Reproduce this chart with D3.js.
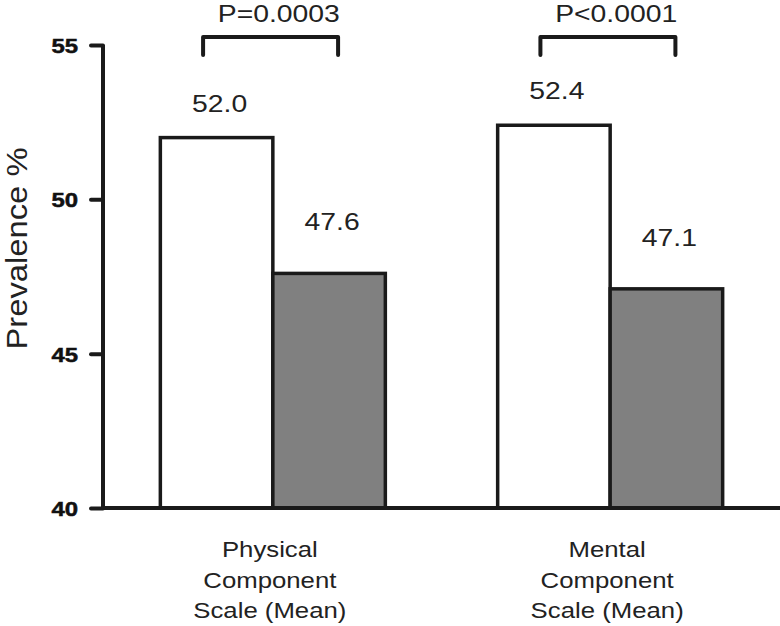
<!DOCTYPE html>
<html>
<head>
<meta charset="utf-8">
<script src="https://cdn.jsdelivr.net/npm/d3@7"></script>
<style>
  html, body { margin: 0; padding: 0; background: #fff; }
  svg { display: block; font-family: "Liberation Sans", Arial, Helvetica, sans-serif; }
</style>
</head>
<body>
<svg id="chart" width="780" height="626"></svg>
<script>
// ---- Data ----
const categories = [
  ["Physical", "Component", "Scale (Mean)"],
  ["Mental", "Component", "Scale (Mean)"]
];
const categoryKeys = ["Physical", "Mental"];
const seriesNames = ["Group 1", "Group 2"];
const seriesWhite = [52.0, 52.4];
const seriesGray = [47.6, 47.1];
const valueLabels = [["52.0", "47.6"], ["52.4", "47.1"]];
const pValues = ["P=0.0003", "P<0.0001"];
const yTicks = [40, 45, 50, 55];
const yTitle = "Prevalence %";

// ---- Layout ----
const svg = d3.select("#chart");
const yBottom = 508, yTop = 45, xLeft = 103, xRight = 780;
const sx = 1.18; // horizontal glyph stretch of the reference

const y = d3.scaleLinear().domain([40, 55]).range([yBottom, yTop]);
const x0 = d3.scaleBand().domain(categoryKeys).range([xLeft, xRight])
  .paddingInner(0.333).paddingOuter(0.17);
const x1 = d3.scaleBand().domain(seriesNames).range([0, x0.bandwidth()]);
const fills = ["#ffffff", "#808080"];
const labelOffset = [26, 43];

const groupData = categoryKeys.map((k, i) => ({
  key: k, i,
  vals: [seriesWhite[i], seriesGray[i]]
}));

// bars
const g = svg.selectAll("g.grp").data(groupData).join("g")
  .attr("class", "grp")
  .attr("transform", d => `translate(${x0(d.key)},0)`);

g.selectAll("rect").data(d => d.vals.map((v, j) => ({ v, j, i: d.i })))
  .join("rect")
  .attr("x", d => x1(seriesNames[d.j]))
  .attr("y", d => y(d.v))
  .attr("width", x1.bandwidth())
  .attr("height", d => y(40) - y(d.v))
  .attr("fill", d => fills[d.j])
  .attr("stroke", "#1a1a1a")
  .attr("stroke-width", 3.5);

// value labels
g.selectAll("text.val").data(d => d.vals.map((v, j) => ({ v, j, i: d.i })))
  .join("text")
  .attr("class", "val")
  .attr("transform", d => `translate(${x1(seriesNames[d.j]) + x1.bandwidth() / 2 + 3},${y(d.v) - labelOffset[d.j]}) scale(${sx},1)`)
  .attr("text-anchor", "middle")
  .style("font-size", "24px")
  .attr("fill", "#222")
  .text(d => valueLabels[d.i][d.j]);

// brackets
const bw = x0.bandwidth();
g.append("path")
  .attr("d", d => `M${bw * 0.19},55 V37 H${bw * 0.79} V55`)
  .attr("fill", "none")
  .attr("stroke", "#1a1a1a")
  .attr("stroke-width", 4)
  .attr("stroke-linecap", "round")
  .attr("stroke-linejoin", "round");

g.append("text")
  .attr("transform", `translate(${bw / 2 + 6},22) scale(${sx},1)`)
  .attr("text-anchor", "middle")
  .style("font-size", "24px")
  .attr("fill", "#222")
  .text(d => pValues[d.i]);

// category labels
g.append("g").selectAll("text").data(d => categories[d.i]).join("text")
  .attr("transform", (d, k) => `translate(${bw / 2 - 3},${557 + k * 30.5}) scale(1.12,1)`)
  .attr("text-anchor", "middle")
  .style("font-size", "23px")
  .attr("fill", "#222")
  .text(d => d);

// y axis
const yAxis = d3.axisLeft(y).tickValues(yTicks).tickSize(12).tickPadding(13)
  .tickFormat(d3.format("d"));
const ya = svg.append("g").attr("transform", `translate(${xLeft},0)`).call(yAxis);
ya.select(".domain").remove();
ya.append("line").attr("x1", 0).attr("x2", 0).attr("y1", yTop).attr("y2", yBottom)
  .attr("stroke", "#1a1a1a").attr("stroke-width", 4);
ya.selectAll(".tick line").attr("stroke", "#1a1a1a").attr("stroke-width", 4)
  .attr("stroke-linecap", "round");
ya.selectAll(".tick text")
  .style("font-size", "21px")
  .style("font-weight", "bold")
  .style("font-family", "'Liberation Sans', Arial, sans-serif")
  .attr("fill", "#111")
  .attr("x", 0)
  .attr("transform", "translate(-25,0) scale(1.14,1)")
  .attr("stroke", "#111")
  .attr("stroke-width", 0.5)
  .attr("dy", "0.36em");

// x axis line
svg.append("line").attr("x1", xLeft - 2).attr("x2", xRight).attr("y1", yBottom).attr("y2", yBottom)
  .attr("stroke", "#1a1a1a").attr("stroke-width", 4);

// y title
svg.append("text")
  .attr("transform", `translate(27,${(140 + 357) / 2}) rotate(-90) scale(1.13,1)`)
  .attr("text-anchor", "middle")
  .style("font-size", "29px")
  .attr("fill", "#222")
  .text(yTitle);
</script>
</body>
</html>
